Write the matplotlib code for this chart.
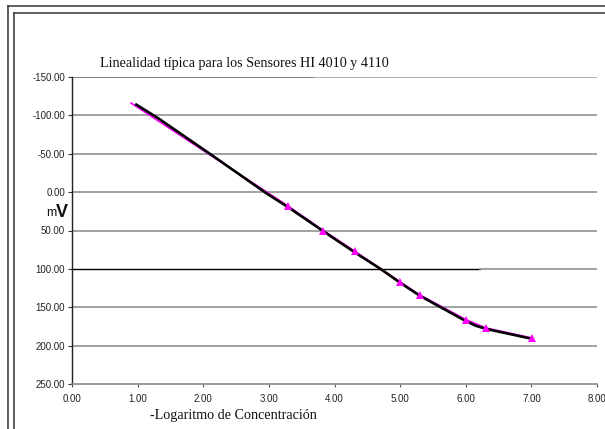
import matplotlib
matplotlib.use("Agg")
import matplotlib.pyplot as plt
from matplotlib.lines import Line2D

# Data
curve_x = [0.98, 1.30, 2.10, 2.97, 3.30, 3.83, 4.30, 4.70, 5.00, 5.30, 6.00, 6.15, 6.30, 7.00]
curve_y = [-114, -97, -50, 2, 20, 51, 78, 100, 118, 135, 168, 174, 178, 191]

meas_x = [0.90, 3.29, 3.83, 4.31, 5.00, 5.30, 6.00, 6.31, 7.01]
meas_y = [-116, 18, 50, 77, 117, 134, 166, 177, 190]

yticks = [-150, -100, -50, 0, 50, 100, 150, 200, 250]
xticks = [0, 1, 2, 3, 4, 5, 6, 7, 8]

title = "Linealidad típica para los Sensores HI 4010 y 4110"
xlabel = "-Logaritmo de Concentración"

W, H = 605, 429
fig = plt.figure(figsize=(W / 100, H / 100), dpi=100)
fig.patch.set_facecolor("white")


def fx(px):
    return px / W


def fy(py):
    return 1 - py / H


# Double frame around the chart (cropped on right and bottom)
for off, top in ((8, 6), (14, 13)):
    fig.add_artist(Line2D([fx(off), fx(off)], [fy(top), fy(H + 5)],
                          color="#333333", lw=1.1, transform=fig.transFigure))
    fig.add_artist(Line2D([fx(off), fx(W + 5)], [fy(top)] * 2,
                          color="#333333", lw=1.1, transform=fig.transFigure))

ax = fig.add_axes([fx(72), fy(384), fx(597) - fx(72), fy(77) - fy(384)])
ax.set_facecolor("none")

ax.set_xlim(0, 8)
ax.set_ylim(250, -150)

# Gridlines
for v in yticks:
    if v == 100:
        ax.plot([0, 6.22], [v, v], color="black", lw=1.0, zorder=1)
        ax.plot([6.22, 8], [v, v], color="#9a9a9a", lw=1.3, zorder=1)
    elif v == -150:
        ax.plot([0, 3.7], [v, v], color="#777777", lw=1.3, zorder=1)
        ax.plot([3.7, 8], [v, v], color="#a8a8a8", lw=1.3, zorder=1)
    elif v != 250:
        ax.axhline(v, color="#9a9a9a", lw=1.3, zorder=1)

ax.plot(meas_x, meas_y, color="#ff00ff", lw=1.2, zorder=2, clip_on=False)
ax.plot(curve_x, curve_y, color="black", lw=1.9, zorder=3, clip_on=False)
# markers on top of the black curve, as in the reference
ax.plot(meas_x[1:], meas_y[1:], ls="none", marker="^", ms=5.6, mew=0,
        color="#ff00ff", zorder=4, clip_on=False)

ax.set_xticks(xticks)
ax.set_yticks(yticks)
ax.set_xticklabels([f"{v:.2f}" for v in xticks], family="Liberation Sans", fontsize=7, color="#222222")
ax.set_yticklabels([f"{v:.2f}" for v in yticks], family="Liberation Sans", fontsize=7, color="#222222")
ax.tick_params(axis="y", direction="out", length=3, width=0.8, pad=2, colors="#333333")
ax.tick_params(axis="x", direction="out", length=2, width=0.8, pad=5, colors="#555555")
for lab in ax.get_xticklabels() + ax.get_yticklabels():
    lab.set_color("#222222")

for s in ("top", "right"):
    ax.spines[s].set_visible(False)
ax.spines["left"].set_color("#222222")
ax.spines["left"].set_linewidth(1.0)
ax.spines["bottom"].set_color("#888888")
ax.spines["bottom"].set_linewidth(1.2)

fig.text(fx(244), fy(63), title, family="Liberation Serif", fontsize=10.2,
         ha="center", va="center", color="#111111")
fig.text(fx(233), fy(415), xlabel, family="Liberation Serif", fontsize=10.2,
         ha="center", va="center", color="#111111")
fig.text(fx(46), fy(216), "m", family="Liberation Sans", fontsize=9,
         ha="left", va="baseline", color="#111111")
fig.text(fx(56), fy(217), "V", family="Liberation Sans", fontsize=13, weight="bold",
         ha="left", va="baseline", color="#111111")

fig.savefig("out.png", dpi=100, facecolor="white")
